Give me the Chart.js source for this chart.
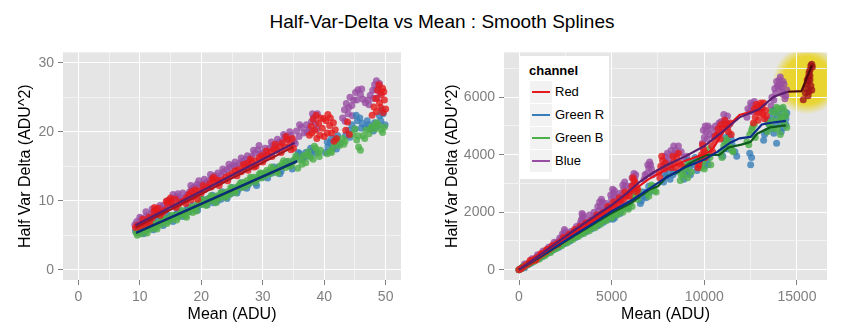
<!DOCTYPE html>
<html>
<head>
<meta charset="utf-8">
<script src="https://cdn.jsdelivr.net/npm/chart.js@4.4.1/dist/chart.umd.min.js"></script>
<style>
  body { margin: 0; background: #fff; font-family: "Liberation Sans", Arial, sans-serif; }
  #wrap { position: relative; width: 860px; height: 333px; overflow: hidden; }
  #title { position: absolute; left: 0; top: 10px; width: 860px; padding-left: 24px; box-sizing: border-box;
           text-align: center; font-size: 19px; line-height: 24px; color: #000; }
  .panel { position: absolute; top: 40px; }
  #legend { position: absolute; left: 519px; top: 56px; width: 90px; height: 123px; background: #fff; }
  #legend .head { position: absolute; left: 10px; top: 7px; font-size: 13px; font-weight: bold; line-height: 16px; }
  #legend .key { position: absolute; left: 11px; width: 22px; height: 22px; background: #F2F2F2; }
  #legend .key span { position: absolute; left: 2px; top: 10px; width: 18px; height: 2px; }
  #legend .lab { position: absolute; left: 36px; font-size: 13px; line-height: 22px; }
</style>
</head>
<body>
<div id="wrap">
  <div id="title">Half-Var-Delta vs Mean : Smooth Splines</div>
  <canvas id="left" class="panel" style="left:0px" width="430" height="293"></canvas>
  <canvas id="right" class="panel" style="left:430px" width="430" height="293"></canvas>
  <div id="legend"></div>
</div>
<script>
// channel names and colours
const channels = ['Red', 'Green R', 'Green B', 'Blue'];
const pointColors = ['rgba(228,26,28,0.8)', 'rgba(55,126,184,0.8)', 'rgba(77,175,74,0.8)', 'rgba(152,78,163,0.8)'];
const keyColors = ['#E41A1C', '#377EB8', '#4DAF4A', '#984EA3'];

// tick values
const leftXMajor = [0, 10, 20, 30, 40, 50];
const leftXMinor = [5, 15, 25, 35, 45];
const leftYMajor = [0, 10, 20, 30];
const leftYMinor = [5, 15, 25];
const rightXMajor = [0, 5000, 10000, 15000];
const rightXMinor = [2500, 7500, 12500];
const rightYMajor = [0, 2000, 4000, 6000];
const rightYMinor = [1000, 3000, 5000, 7000];

// left panel points [mean, halfVarDelta]
const leftRed = [[9.3,6.1],[9.6,6.4],[10.0,6.2],[10.4,6.7],[10.8,6.5],[11.2,7.0],[11.6,6.8],[12.0,7.5],[12.3,8.4],[12.6,8.7],[12.9,8.2],[13.3,7.9],[13.7,8.3],[14.1,8.6],[14.5,9.6],[14.8,10.1],[15.1,9.8],[15.5,9.2],[15.9,9.0],[16.3,9.5],[16.8,9.8],[17.2,10.0],[17.6,10.4],[18.0,10.9],[18.4,11.3],[18.8,10.6],[19.2,10.9],[19.6,11.4],[20.0,11.1],[20.5,11.6],[21.0,11.9],[21.4,12.5],[21.8,13.1],[22.2,12.6],[22.6,13.0],[23.0,12.7],[23.5,13.0],[24.0,13.4],[24.5,13.6],[25.0,13.9],[25.5,14.3],[26.0,14.5],[26.5,14.2],[27.0,14.8],[27.4,15.4],[27.8,15.0],[28.2,15.6],[28.6,14.9],[29.0,15.8],[29.4,16.2],[29.8,16.5],[30.3,16.2],[30.8,16.6],[31.3,17.1],[31.8,17.5],[32.3,17.3],[32.8,17.9],[33.2,18.4],[33.6,17.8],[34.0,18.9],[34.4,18.2],[34.8,19.0],[35.0,17.6],[37.6,19.5],[37.9,20.8],[38.2,21.8],[38.5,20.2],[38.8,19.0],[39.1,21.2],[39.4,22.0],[39.7,20.5],[40.0,19.3],[40.3,21.6],[40.6,22.5],[40.9,20.9],[41.2,19.8],[41.5,21.3],[41.8,20.3],[42.0,19.0],[43.5,20.2],[43.8,21.4],[44.1,19.6],[47.8,22.4],[48.1,23.6],[48.4,24.8],[48.7,26.0],[49.0,24.2],[49.3,25.4],[49.6,22.8],[49.8,24.6],[50.0,23.3],[49.5,26.3]];
const leftRedSpread = [[10.5,7.3],[11.5,7.6],[12.4,9.0],[13.0,8.9],[14.3,9.9],[15.0,10.4],[15.8,10.2],[17.5,9.6],[18.3,10.1],[19.0,11.6],[19.4,10.2],[20.3,12.2],[21.6,12.0],[22.0,13.4],[22.9,12.2],[24.3,12.9],[25.8,13.6],[26.8,15.2],[27.6,14.4],[28.0,16.0],[28.9,15.0],[30.0,15.6],[30.6,17.2],[31.5,16.4],[32.0,18.2],[33.0,17.0],[33.8,19.3],[34.6,17.4],[38.0,19.8],[38.7,22.4],[39.3,19.5],[39.9,21.9],[40.5,19.8],[41.0,22.0],[41.6,18.6],[48.5,22.9],[49.2,23.5],[49.7,25.8],[48.9,26.8]];
const leftGreenR = [[9.3,5.6],[9.6,5.3],[10.0,5.9],[10.4,5.6],[10.8,6.0],[11.2,5.9],[11.6,6.4],[12.0,6.2],[12.4,6.7],[12.8,6.5],[13.2,7.0],[13.6,6.8],[14.0,7.3],[14.4,7.1],[14.8,7.6],[15.2,7.4],[15.6,7.8],[16.0,8.1],[16.4,7.9],[16.8,8.4],[17.2,8.2],[17.6,8.6],[18.0,8.4],[18.4,8.9],[18.8,8.7],[19.2,9.1],[19.6,9.3],[20.0,9.8],[20.4,9.5],[20.8,10.0],[21.2,10.3],[21.6,10.0],[22.0,9.7],[22.4,10.4],[22.8,10.6],[23.2,10.2],[23.6,10.9],[24.0,10.6],[24.4,11.2],[24.8,11.0],[25.2,11.5],[25.6,11.8],[26.0,11.6],[26.4,12.1],[26.8,12.0],[27.2,12.5],[27.6,12.3],[28.0,12.8],[28.4,13.0],[28.8,12.6],[29.2,13.3],[29.6,13.6],[30.0,13.4],[30.5,13.8],[31.0,14.2],[31.5,14.0],[32.0,14.5],[32.5,14.8],[33.0,14.3],[33.5,15.2],[34.0,15.6],[34.5,15.1],[35.0,15.8],[35.5,16.3],[36.0,16.8],[36.5,16.0],[37.0,17.0],[37.5,16.5],[38.0,17.2],[38.5,16.9],[40.2,17.0],[40.6,17.8],[41.0,18.4],[41.4,17.6],[41.8,18.9],[42.2,19.4],[42.6,18.3],[43.5,19.5],[44.0,20.2],[44.5,21.0],[45.0,20.4],[45.4,21.6],[45.8,22.0],[46.2,21.2],[46.7,20.6],[47.2,21.0],[47.7,20.5],[48.2,21.3],[48.7,20.8],[49.2,21.6],[49.6,22.6],[49.9,21.0],[49.4,23.2]];
const leftGreenRSpread = [[9.8,6.2],[10.6,5.2],[11.4,6.6],[12.2,5.8],[13.0,7.3],[13.8,6.4],[14.6,7.9],[15.4,7.0],[16.2,8.5],[17.0,7.7],[17.8,9.0],[18.6,9.3],[19.4,8.6],[20.2,10.2],[21.0,9.4],[21.8,10.8],[22.6,9.9],[23.4,11.3],[24.2,10.3],[25.0,11.9],[25.8,11.1],[26.6,12.6],[27.4,11.8],[28.2,13.3],[29.0,12.2],[29.8,13.9],[30.8,13.3],[31.8,14.9],[32.8,13.9],[33.8,15.6],[34.8,14.6],[35.8,17.0],[36.8,16.3],[37.8,17.6],[40.5,18.5],[41.2,19.0],[42.0,17.5],[44.2,19.2],[45.2,22.4],[46.0,20.5],[47.0,21.6],[48.0,20.1],[49.0,22.3]];
const leftGreenB = [[9.4,5.4],[9.8,5.7],[10.2,5.2],[10.6,5.9],[11.0,5.6],[11.4,6.2],[11.8,5.9],[12.2,6.5],[12.6,6.1],[13.0,6.8],[13.4,6.5],[13.8,7.0],[14.2,7.4],[14.6,7.0],[15.0,7.5],[15.4,7.3],[15.8,7.9],[16.2,7.6],[16.6,8.2],[17.0,8.0],[17.4,7.8],[17.8,8.4],[18.2,8.7],[18.6,8.3],[19.0,9.0],[19.4,9.6],[19.8,9.4],[20.2,9.9],[20.6,9.6],[21.0,10.2],[21.4,9.9],[21.8,10.5],[22.2,10.1],[22.6,10.7],[23.0,10.4],[23.4,11.0],[23.8,10.8],[24.2,11.3],[24.6,10.9],[25.0,11.7],[25.4,11.4],[25.8,12.0],[26.2,12.3],[26.6,11.9],[27.0,12.6],[27.4,12.9],[27.8,12.5],[28.2,13.1],[28.6,13.4],[29.0,13.0],[29.4,13.8],[29.8,13.3],[30.2,14.0],[30.7,14.4],[31.2,13.9],[31.7,14.6],[32.2,14.3],[32.7,15.0],[33.2,15.4],[33.7,14.8],[34.2,15.7],[34.7,15.3],[35.2,16.0],[35.7,14.7],[36.2,15.9],[36.6,16.5],[37.0,15.5],[37.4,17.1],[37.8,16.3],[38.2,16.0],[38.6,17.6],[39.0,16.9],[39.4,17.3],[40.5,16.8],[41.0,17.2],[41.5,17.8],[42.0,18.4],[42.5,18.0],[43.0,19.0],[43.4,18.6],[44.6,19.6],[45.0,20.4],[45.3,18.8],[45.6,17.8],[45.9,17.3],[46.3,19.4],[46.8,20.2],[47.3,19.7],[47.8,20.8],[48.3,20.4],[48.8,21.0],[49.3,20.3],[49.8,20.7]];
const leftGreenBSpread = [[9.6,5.0],[10.4,6.1],[11.2,5.3],[12.0,6.7],[12.8,5.9],[13.6,7.3],[14.4,6.7],[15.2,7.9],[16.0,7.2],[16.8,8.6],[17.6,7.6],[18.4,9.1],[19.2,8.5],[20.0,10.2],[20.8,9.3],[21.6,10.7],[22.4,9.7],[23.2,11.2],[24.0,10.5],[24.8,11.9],[25.6,11.2],[26.4,12.6],[27.2,12.1],[28.0,13.4],[28.8,12.7],[29.6,14.0],[30.4,13.6],[31.4,14.9],[32.4,14.0],[33.4,15.8],[34.4,15.0],[35.4,16.5],[36.4,15.3],[37.2,16.6],[38.4,17.9],[39.2,16.4],[41.2,17.0],[42.2,18.9],[43.2,18.2],[45.5,19.4],[46.6,19.0],[47.5,20.4],[48.5,21.3],[49.5,19.9]];
const leftBlue = [[9.2,6.5],[9.5,7.0],[9.9,6.8],[10.3,7.4],[10.7,7.2],[11.1,7.8],[11.5,7.6],[11.9,8.1],[12.3,7.9],[12.7,8.6],[13.1,8.4],[13.5,8.9],[13.9,9.3],[14.3,8.8],[14.7,9.4],[15.2,9.6],[15.6,10.3],[16.0,10.6],[16.4,10.4],[16.8,10.0],[17.3,10.4],[17.7,10.8],[18.1,11.3],[18.5,11.7],[18.9,12.0],[19.3,12.4],[19.8,12.1],[20.2,12.4],[20.7,12.6],[21.2,12.9],[21.7,13.3],[22.2,13.6],[22.7,14.0],[23.2,13.7],[23.7,14.2],[24.2,14.5],[24.7,14.8],[25.2,15.1],[25.7,14.9],[26.2,15.4],[26.7,15.7],[27.2,16.0],[27.7,15.6],[28.2,16.4],[28.7,16.9],[29.2,17.4],[29.6,16.8],[30.1,17.0],[30.6,16.7],[31.1,17.6],[31.6,18.0],[32.1,17.8],[32.6,18.4],[33.1,18.7],[33.6,19.3],[34.1,18.9],[34.6,19.5],[35.1,18.6],[35.5,20.1],[35.9,19.3],[36.3,20.6],[36.7,19.8],[37.1,21.0],[37.5,20.4],[37.9,21.4],[38.3,22.1],[38.6,21.2],[38.9,22.6],[43.0,22.0],[43.3,23.2],[43.6,24.1],[43.9,22.6],[44.2,25.0],[44.5,23.8],[44.8,24.6],[45.1,25.7],[45.5,26.1],[45.9,25.4],[46.3,24.7],[46.7,24.2],[47.1,24.6],[47.5,25.3],[47.9,26.0],[48.2,26.8],[48.5,27.4],[48.8,26.4],[49.1,25.6],[48.6,24.9]];
const leftBlueSpread = [[10.0,7.6],[11.0,8.4],[12.0,8.8],[13.3,9.3],[14.5,10.0],[15.4,10.9],[16.2,11.0],[17.0,11.1],[18.3,12.2],[19.6,12.9],[20.5,13.1],[21.5,13.8],[22.5,13.3],[23.5,14.6],[24.5,15.3],[25.5,15.6],[26.5,16.2],[27.5,16.5],[28.5,17.3],[29.4,18.0],[30.4,17.6],[31.4,18.5],[32.4,18.9],[33.4,19.6],[34.4,20.0],[35.3,18.3],[36.0,21.0],[37.2,20.0],[38.1,22.6],[38.8,20.4],[43.4,21.5],[44.0,23.5],[44.6,22.3],[45.3,24.6],[46.1,26.2],[47.3,23.9],[48.0,24.8],[48.4,26.1],[49.0,27.0]];

// left panel spline fits
const leftRedFit = [[9.3,6.1],[35.0,17.8]];
const leftGreenRFit = [[9.4,5.35],[35.6,15.75]];
const leftGreenBFit = [[9.4,5.3],[35.6,15.7]];
const leftBlueFit = [[9.3,6.45],[35.2,18.4]];

// right panel points
const rightRed = [[0,0],[120,40],[250,100],[400,170],[550,230],[700,300],[850,370],[1000,420],[1150,500],[1300,560],[1450,620],[1600,690],[1750,760],[1900,820],[2050,900],[2200,960],[2350,1020],[2500,1080],[2650,1150],[2800,1200],[2950,1280],[3100,1320],[3250,1400],[3400,1470],[3550,1520],[3700,1580],[3850,1650],[4000,1720],[4150,1780],[4300,1850],[4450,1900],[4600,1980],[4750,2050],[4900,2120],[5050,2150],[5200,2250],[5350,2300],[5500,2400],[5650,2450],[5800,2550],[6000,2700],[6100,2900],[6200,3100],[6300,3000],[6400,2800],[7550,3400],[7650,3600],[7750,3800],[7850,3500],[8200,3550],[8350,3750],[8500,3900],[8650,3700],[8800,3600],[9650,3550],[9750,3800],[9850,4000],[9950,4200],[10050,3900],[10400,4300],[10550,4500],[10700,4700],[10850,4550],[11000,4900],[11150,5050],[11300,4800],[11450,4700],[12650,5100],[12750,5300],[12850,5500],[12950,5700],[13050,5800],[13150,5400],[13250,5250],[13300,5550],[12900,5200]];
const rightRedSpread = [[600,320],[900,330],[1200,560],[1500,700],[1800,840],[2100,880],[2400,1120],[2700,1230],[3000,1400],[3300,1500],[3600,1620],[3900,1700],[4200,1900],[4500,1970],[4800,2200],[5100,2350],[5400,2500],[5700,2700],[5950,2550],[6150,3200],[6350,2700],[7600,3200],[7700,3950],[7900,3700],[8300,3950],[8450,3550],[8600,4050],[9700,3650],[9900,4350],[10000,4100],[10450,4100],[10600,4650],[10750,4900],[10900,5050],[11100,5200],[11250,4950],[11400,5100],[12700,5600],[12800,5750],[13000,5450],[13100,5650],[13200,5800],[13350,5350]];
const rightGreenR = [[0,0],[100,30],[250,90],[400,150],[550,210],[700,270],[850,330],[1000,390],[1150,440],[1300,500],[1450,560],[1600,620],[1750,670],[1900,740],[2050,780],[2200,850],[2350,900],[2500,960],[2650,1010],[2800,1070],[2950,1110],[3100,1180],[3250,1220],[3400,1290],[3550,1330],[3700,1390],[3850,1450],[4000,1500],[4150,1570],[4300,1600],[4450,1680],[4600,1720],[4750,1780],[4900,1850],[5050,1750],[5200,1900],[5350,2000],[5500,2050],[5650,2150],[5800,2200],[5950,2300],[6600,2400],[6750,2550],[6900,2700],[7000,2900],[7800,3050],[7950,3250],[8100,3450],[8250,3650],[8400,3400],[8900,3150],[9050,3350],[9200,3550],[9350,3750],[9500,3900],[9600,3450],[10000,3600],[10150,3800],[10250,4000],[10900,4000],[11050,4200],[11200,4450],[11350,4700],[11500,4350],[11650,4100],[11750,3950],[12500,3650],[12550,3900],[13200,4500],[13350,4800],[13500,5050],[13650,5300],[13800,5550],[13950,5350],[14100,5150],[14250,4950],[14400,5250],[14450,5450],[13900,4400],[14200,5600],[13750,4750]];
const rightGreenRSpread = [[300,70],[650,230],[950,350],[1250,450],[1550,570],[1850,690],[2150,780],[2450,900],[2750,1000],[3050,1120],[3350,1230],[3650,1330],[3950,1430],[4250,1530],[4550,1650],[4850,1750],[5150,1800],[5300,2100],[5450,1950],[5600,2250],[5900,2150],[6550,2300],[6700,2700],[6850,2500],[7050,2700],[7850,3350],[8000,3600],[8150,3150],[8300,3300],[8950,3450],[9100,3800],[9250,3300],[9450,3650],[10050,3950],[10200,3650],[11000,3950],[11150,4600],[11300,4200],[11450,4550],[12450,4050],[13250,4700],[13400,5200],[13600,4900],[13700,5500],[13850,5100],[14000,5450],[14150,4800],[14300,5350],[14400,5050]];
const rightGreenB = [[0,0],[150,50],[300,110],[450,170],[600,230],[750,290],[900,350],[1050,400],[1200,460],[1350,520],[1500,570],[1650,640],[1800,690],[1950,750],[2100,810],[2250,860],[2400,920],[2550,980],[2700,1030],[2850,1090],[3000,1140],[3150,1200],[3300,1250],[3450,1310],[3600,1360],[3750,1420],[3900,1480],[4050,1530],[4200,1590],[4350,1640],[4500,1700],[4650,1760],[4800,1820],[4950,1870],[5100,1930],[5250,1990],[5400,2050],[5550,2100],[5700,2160],[5850,2220],[6000,2300],[6150,2450],[6300,2600],[6450,2750],[6950,2650],[7100,2800],[7250,2900],[7400,2700],[8700,3100],[8850,3300],[9000,3500],[9150,3650],[9300,3400],[9800,3550],[9950,3750],[10100,3950],[10250,4200],[10350,3650],[10900,4100],[11050,4300],[11200,4550],[11400,4250],[11550,4100],[12300,4450],[12450,4700],[12600,4950],[12750,4600],[13400,4800],[13550,5000],[13700,5200],[13850,5450],[14000,5600],[14150,5350],[14300,5100],[14450,4950],[13950,4900],[14200,5250],[14350,5500]];
const rightGreenBSpread = [[200,100],[500,180],[800,280],[1100,370],[1400,480],[1700,600],[2000,730],[2300,830],[2600,940],[2900,1050],[3200,1150],[3500,1260],[3800,1350],[4100,1460],[4400,1580],[4700,1700],[5000,1800],[5300,1900],[5600,2000],[5900,2100],[6100,2200],[6250,2550],[6350,2800],[6400,2450],[7000,2550],[7150,2950],[7300,2750],[8750,3300],[8950,3600],[9100,3200],[9250,3750],[9850,3800],[10000,3500],[10150,4050],[10300,3900],[10950,3900],[11100,4450],[11300,4400],[11500,4150],[12400,4350],[12550,4850],[12700,5050],[13450,5100],[13600,5500],[13750,4900],[13900,5650],[14050,5200],[14250,5650],[14400,5350],[14100,4700]];
const rightBlue = [[0,0],[100,40],[200,90],[350,160],[500,220],[650,290],[800,360],[950,430],[1100,490],[1250,560],[1400,640],[1550,700],[1700,780],[1850,850],[2000,930],[2150,1000],[2300,1080],[2400,1200],[2500,1320],[2600,1150],[2750,1250],[2900,1300],[3050,1360],[3200,1450],[3300,1600],[3400,1780],[3450,1900],[3550,1600],[3700,1650],[3850,1720],[4000,1800],[4150,1900],[4300,2050],[4400,2200],[4500,2350],[4600,2100],[4750,2150],[4900,2250],[5000,2450],[5100,2650],[5150,2550],[5250,2400],[5450,2450],[5550,2600],[5650,2800],[5750,2920],[5800,2600],[6050,2750],[6150,2950],[6250,3150],[6300,3300],[6750,3150],[6900,3350],[7000,3550],[7100,3650],[7200,3300],[7800,3600],[7950,3750],[8100,3850],[8300,4000],[8450,4150],[8600,4300],[8750,4100],[8900,3900],[9050,3950],[9900,4400],[10000,4600],[10100,4800],[10200,5000],[10300,4700],[10500,4650],[10650,4850],[10800,5100],[10950,4900],[11100,5200],[11250,5350],[11350,5050],[12300,5300],[12450,5500],[12550,5700],[12700,5850],[12800,5600],[13600,5700],[13750,5900],[13850,6150],[13950,6400],[14050,6600],[14150,6350],[14250,6100],[14350,5950],[14450,6250],[14100,6700],[14250,6550],[13700,5550]];
const rightBlueSpread = [[300,200],[700,380],[1000,520],[1300,650],[1600,780],[1900,950],[2200,1100],[2350,1250],[2450,1400],[2550,1200],[2800,1330],[3100,1500],[3350,1700],[3400,1950],[3500,1800],[3800,1900],[4050,2000],[4250,2200],[4350,2350],[4450,2450],[4700,2300],[4950,2600],[5050,2800],[5150,2750],[5400,2650],[5600,2950],[5700,3050],[6000,2900],[6100,3200],[6200,3350],[6800,3300],[6950,3650],[7050,3750],[7150,3500],[7900,3950],[8000,4050],[8200,4150],[8350,4300],[8500,4050],[9950,4850],[10050,5000],[10150,4550],[10350,4900],[10600,5000],[10750,4700],[10900,5150],[11050,5400],[11200,5100],[12350,5600],[12500,5800],[12650,5500],[13650,6000],[13800,6300],[13900,6550],[14000,6350],[14200,6200],[14300,6450],[14400,6050]];
// saturated red points, highlighted
const rightSaturated = [[15340,5910],[15450,6150],[15500,6300],[15550,6450],[15600,6550],[15620,6700],[15650,6850],[15700,6950],[15750,7100],[15800,7150],[15830,7050],[15700,6600],[15750,6400],[15800,6250],[15650,6200],[15600,6050],[15700,6750],[15550,6600]];
const highlight = [15540, 6590];

// right panel spline fits
const rightRedFit = [[0,0],[1000,440],[2000,900],[3000,1340],[4000,1770],[5000,2200],[6000,2680],[7000,3150],[8000,3500],[9000,3800],[10000,4020],[10400,4150],[11200,4950],[11900,5380],[12600,5510],[13300,5570]];
const rightGreenRFit = [[0,0],[1000,400],[2000,800],[3000,1210],[4000,1610],[5000,2030],[6000,2380],[7000,2800],[7800,3150],[8900,3550],[10000,3830],[10700,4100],[11400,4420],[11900,4570],[12500,4620],[13100,5050],[13700,5120],[14400,5180]];
const rightGreenBFit = [[0,0],[1000,390],[2000,790],[3000,1190],[4000,1580],[5000,1970],[6000,2300],[7080,2800],[7500,2900],[8000,3250],[8600,3400],[9200,3700],[10100,3990],[10800,3990],[11300,4250],[12000,4350],[12500,4450],[12850,4730],[13550,4950],[14400,5020]];
const rightBlueFit = [[0,0],[1000,450],[2000,920],[3000,1380],[4000,1820],[5000,2250],[5800,2650],[6500,3050],[7250,3380],[8000,3650],[9000,3950],[10000,4300],[10850,4730],[11900,5300],[12950,5580],[13750,6020],[14490,6190]];
const rightSaturatedFit = [[14490,6190],[15240,6210],[15810,7115]];

Chart.defaults.font.family = '"Liberation Sans", Arial, sans-serif';

function toXY(pairs) {
  return pairs.map(p => ({x: p[0], y: p[1]}));
}

function pointSet(pairs, color, order) {
  return {
    type: 'scatter', data: toXY(pairs), order: order,
    pointRadius: 3.5, pointBackgroundColor: color, pointBorderWidth: 0, showLine: false
  };
}

function fitSet(pairs, color, width) {
  return {
    type: 'scatter', data: toXY(pairs), order: 0, showLine: true,
    borderColor: color, borderWidth: width || 2.2, pointRadius: 0, tension: 0, fill: false
  };
}

// grey panel behind the grid
const panelBg = {
  id: 'panelBg',
  beforeDraw(chart) {
    const a = chart.chartArea;
    const ctx = chart.ctx;
    ctx.save();
    ctx.fillStyle = '#E5E5E5';
    ctx.fillRect(a.left, a.top, a.right - a.left, a.bottom - a.top);
    ctx.restore();
  }
};

// yellow glow round the saturated points
const glow = {
  id: 'glow',
  beforeDraw(chart) {
    const a = chart.chartArea;
    const ctx = chart.ctx;
    const cx = chart.scales.x.getPixelForValue(highlight[0]);
    const cy = chart.scales.y.getPixelForValue(highlight[1]);
    const r = 34;
    ctx.save();
    ctx.beginPath();
    ctx.rect(a.left, a.top, a.right - a.left, a.bottom - a.top);
    ctx.clip();
    const g = ctx.createRadialGradient(cx, cy, 0, cx, cy, r);
    g.addColorStop(0, 'rgba(233,212,38,1)');
    g.addColorStop(0.7, 'rgba(233,212,38,0.92)');
    g.addColorStop(1, 'rgba(233,212,38,0)');
    ctx.fillStyle = g;
    ctx.beginPath();
    ctx.arc(cx, cy, r, 0, Math.PI * 2);
    ctx.fill();
    ctx.restore();
  }
};

function axis(min, max, major, minor, size, title, titlePad) {
  const all = major.concat(minor).sort((a, b) => a - b);
  const isMajor = v => major.indexOf(v) >= 0;
  return {
    type: 'linear', min: min, max: max,
    afterBuildTicks: s => { s.ticks = all.map(v => ({value: v})); },
    afterFit: s => { if (s.isHorizontal()) s.height = size; else s.width = size; },
    border: {display: false},
    grid: {
      color: c => isMajor(c.tick.value) ? '#FFFFFF' : '#F2F2F2',
      lineWidth: 1,
      tickColor: c => isMajor(c.tick.value) ? '#7F7F7F' : 'rgba(0,0,0,0)',
      tickLength: 5
    },
    ticks: {
      callback: v => isMajor(v) ? String(v) : '',
      color: '#7F7F7F', font: {size: 14}, padding: 4,
      maxRotation: 0, autoSkip: false
    },
    title: {display: true, text: title, color: '#000', font: {size: 16}, padding: titlePad}
  };
}

function makeChart(id, datasets, opts, plugins) {
  return new Chart(document.getElementById(id), {
    data: {datasets: datasets},
    options: {
      responsive: false,
      animation: false,
      layout: {padding: {left: 0, right: opts.right, top: 6, bottom: 0}},
      plugins: {legend: {display: false}, tooltip: {enabled: false}},
      scales: {
        x: axis(opts.xmin, opts.xmax, opts.xMajor, opts.xMinor, 53, 'Mean (ADU)', {top: 0, bottom: 9}),
        y: axis(opts.ymin, opts.ymax, opts.yMajor, opts.yMinor, opts.yWidth, 'Half Var Delta (ADU^2)', {top: opts.yTitlePad, bottom: 0})
      }
    },
    plugins: plugins
  });
}

makeChart('left', [
  pointSet(leftBlue.concat(leftBlueSpread), pointColors[3], 5),
  pointSet(leftGreenR.concat(leftGreenRSpread), pointColors[1], 4),
  pointSet(leftGreenB.concat(leftGreenBSpread), pointColors[2], 3),
  pointSet(leftRed.concat(leftRedSpread), pointColors[0], 2),
  fitSet(leftBlueFit, '#5A1E6E'),
  fitSet(leftRedFit, '#A8141B'),
  fitSet(leftGreenRFit, '#0C2C7C'),
  fitSet(leftGreenBFit, '#0F5A1E')
], {
  xmin: -2.5, xmax: 52.5, ymin: -1.5, ymax: 31.5,
  xMajor: leftXMajor, xMinor: leftXMinor, yMajor: leftYMajor, yMinor: leftYMinor,
  yWidth: 63, right: 29, yTitlePad: 16
}, [panelBg]);

makeChart('right', [
  pointSet(rightBlue.concat(rightBlueSpread), pointColors[3], 6),
  pointSet(rightGreenR.concat(rightGreenRSpread), pointColors[1], 5),
  pointSet(rightGreenB.concat(rightGreenBSpread), pointColors[2], 4),
  pointSet(rightRed.concat(rightRedSpread), pointColors[0], 3),
  pointSet(rightSaturated, 'rgba(160,20,24,0.8)', 2),
  fitSet(rightBlueFit, '#5A1E6E'),
  fitSet(rightRedFit, '#E4161C'),
  fitSet(rightGreenRFit, '#0C2C8C'),
  fitSet(rightGreenBFit, '#115A1E'),
  fitSet(rightSaturatedFit, '#4E0A0E')
], {
  xmin: -810, xmax: 16620, ymin: -360, ymax: 7560,
  xMajor: rightXMajor, xMinor: rightXMinor, yMajor: rightYMajor, yMinor: rightYMinor,
  yWidth: 74, right: 33, yTitlePad: 13
}, [panelBg, glow]);

// legend box inside the right panel
function buildLegend() {
  const box = document.getElementById('legend');
  let html = '<div class="head">channel</div>';
  channels.forEach((name, i) => {
    const top = 24.7 + i * 23;
    html += '<div class="key" style="top:' + top + 'px"><span style="background:' + keyColors[i] + '"></span></div>';
    html += '<div class="lab" style="top:' + top + 'px">' + name + '</div>';
  });
  box.innerHTML = html;
}
buildLegend();
</script>
</body>
</html>
